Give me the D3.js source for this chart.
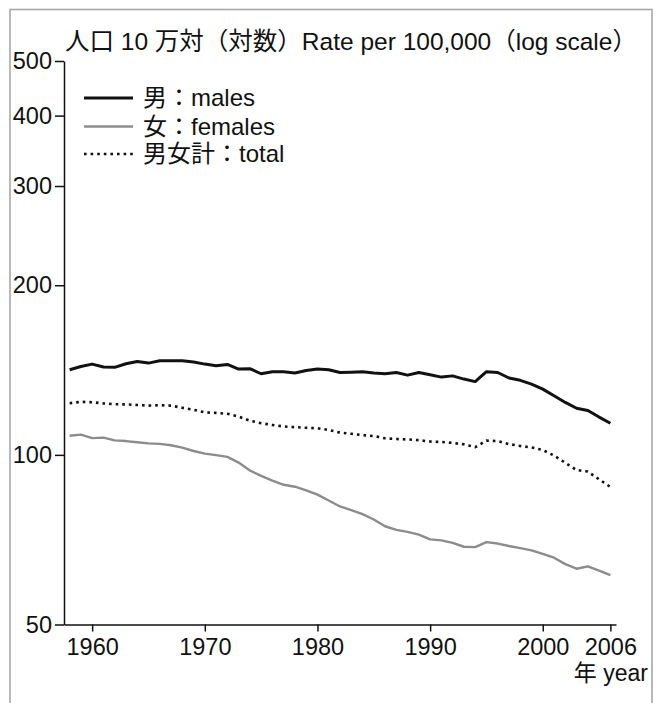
<!DOCTYPE html>
<html>
<head>
<meta charset="utf-8">
<script src="https://cdn.jsdelivr.net/npm/d3@7"></script>
<style>
  html, body { margin: 0; padding: 0; background: #fff; }
  svg { display: block; font-family: "Liberation Sans", "Noto Sans CJK JP", sans-serif; }
</style>
</head>
<body>
<svg id="chart" width="662" height="703"></svg>
<script>
// Rate per 100,000 population, 1958–2006 (log scale)
const years = [1958,1959,1960,1961,1962,1963,1964,1965,1966,1967,1968,1969,
  1970,1971,1972,1973,1974,1975,1976,1977,1978,1979,1980,1981,1982,1983,1984,
  1985,1986,1987,1988,1989,1990,1991,1992,1993,1994,1995,1996,1997,1998,1999,
  2000,2001,2002,2003,2004,2005,2006];

const males = [141.6,143.5,144.9,143.2,143.0,145.1,146.5,145.5,146.9,146.9,146.9,146.1,
  144.9,143.9,144.7,142.0,142.2,139.3,140.4,140.4,139.7,141.2,142.0,141.6,140.0,140.2,140.4,
  139.7,139.3,140.0,138.5,140.0,138.7,137.4,138.1,136.3,134.9,140.5,140.0,136.9,135.6,133.5,
  130.8,127.3,123.9,121.0,119.9,116.7,113.8];

const females = [108.1,108.6,107.1,107.3,106.1,105.8,105.3,104.8,104.6,104.0,103.0,101.6,
  100.5,99.9,99.2,96.9,93.8,91.8,90.0,88.5,87.8,86.5,85.0,83.0,81.0,79.8,78.5,
  76.8,74.7,73.6,73.0,72.2,70.8,70.5,69.8,68.7,68.6,70.0,69.6,68.9,68.3,67.7,
  66.7,65.7,64.0,62.8,63.4,62.3,61.2];

const total = [123.5,124.2,124.0,123.4,123.0,122.9,122.6,122.3,122.5,122.3,121.2,120.2,
  119.0,118.7,118.3,116.9,115.0,113.8,113.0,112.3,112.0,111.7,111.5,110.7,109.5,109.0,108.4,
  108.0,107.0,106.7,106.5,106.2,105.6,105.4,105.0,104.4,103.2,106.0,105.8,104.5,103.7,103.1,
  102.0,99.7,96.8,94.0,93.4,90.5,87.7];

const yTicks = [50, 100, 200, 300, 400, 500];
const xTicks = [1960, 1970, 1980, 1990, 2000, 2006];
const seriesLabels = ["男：males", "女：females", "男女計：total"];
const titleText = "人口 10 万対（対数）Rate per 100,000（log scale）";
const xAxisTitle = "年 year";

const svg = d3.select("#chart");

// outer frame
svg.append("rect")
  .attr("x", 10).attr("y", 9.5)
  .attr("width", 642).attr("height", 720)
  .attr("fill", "none")
  .attr("stroke", "#a8a8a8")
  .attr("stroke-width", 1.6);

const x = d3.scaleLinear().domain([1957.5, 2006.5]).range([64, 616]);
const y = d3.scaleLog().domain([50, 500]).range([624.5, 61]);

// title
svg.append("text")
  .attr("x", 65).attr("y", 50)
  .attr("font-size", 24.5)
  .attr("fill", "#111")
  .text(titleText);

// y axis
const yAxis = svg.append("g")
  .attr("transform", "translate(64,0)")
  .call(d3.axisLeft(y).tickValues(yTicks).tickFormat(d3.format("d"))
    .tickSize(9).tickSizeOuter(0).tickPadding(3));

// x axis
const xAxis = svg.append("g")
  .attr("transform", "translate(0,624.5)")
  .call(d3.axisBottom(x).tickValues(xTicks).tickFormat(d3.format("d"))
    .tickSize(7).tickSizeOuter(0).tickPadding(7));

[yAxis, xAxis].forEach(g => {
  g.attr("font-family", null).attr("font-size", null);
  g.select(".domain").attr("stroke", "#111").attr("stroke-width", 1.5);
  g.selectAll(".tick line").attr("stroke", "#111").attr("stroke-width", 1.5);
  g.selectAll(".tick text").attr("fill", "#111").attr("font-size", 23.5);
});

svg.append("text")
  .attr("x", 648).attr("y", 681)
  .attr("text-anchor", "end")
  .attr("font-size", 23)
  .attr("fill", "#111")
  .text(xAxisTitle);

// series
const styles = [
  { data: males,   stroke: "#111",    width: 3,   dash: null },
  { data: females, stroke: "#8c8c8c", width: 2.4, dash: null },
  { data: total,   stroke: "#111",    width: 2.6, dash: "2.6,4" }
];

const line = d3.line()
  .x((d, i) => x(years[i]))
  .y(d => y(d))
  .curve(d3.curveLinear);

styles.forEach(s => {
  svg.append("path")
    .datum(s.data)
    .attr("fill", "none")
    .attr("stroke", s.stroke)
    .attr("stroke-width", s.width)
    .attr("stroke-linejoin", "round")
    .attr("stroke-dasharray", s.dash)
    .attr("d", line);
});

// legend
const legendY = [98, 126.5, 154];
const legend = svg.append("g");
styles.forEach((s, i) => {
  legend.append("line")
    .attr("x1", 84).attr("x2", 133)
    .attr("y1", legendY[i]).attr("y2", legendY[i])
    .attr("stroke", s.stroke)
    .attr("stroke-width", s.width)
    .attr("stroke-dasharray", s.dash);
  legend.append("text")
    .attr("x", 143)
    .attr("y", legendY[i] + 8)
    .attr("font-size", 24)
    .attr("fill", "#111")
    .text(seriesLabels[i]);
});
</script>
</body>
</html>
